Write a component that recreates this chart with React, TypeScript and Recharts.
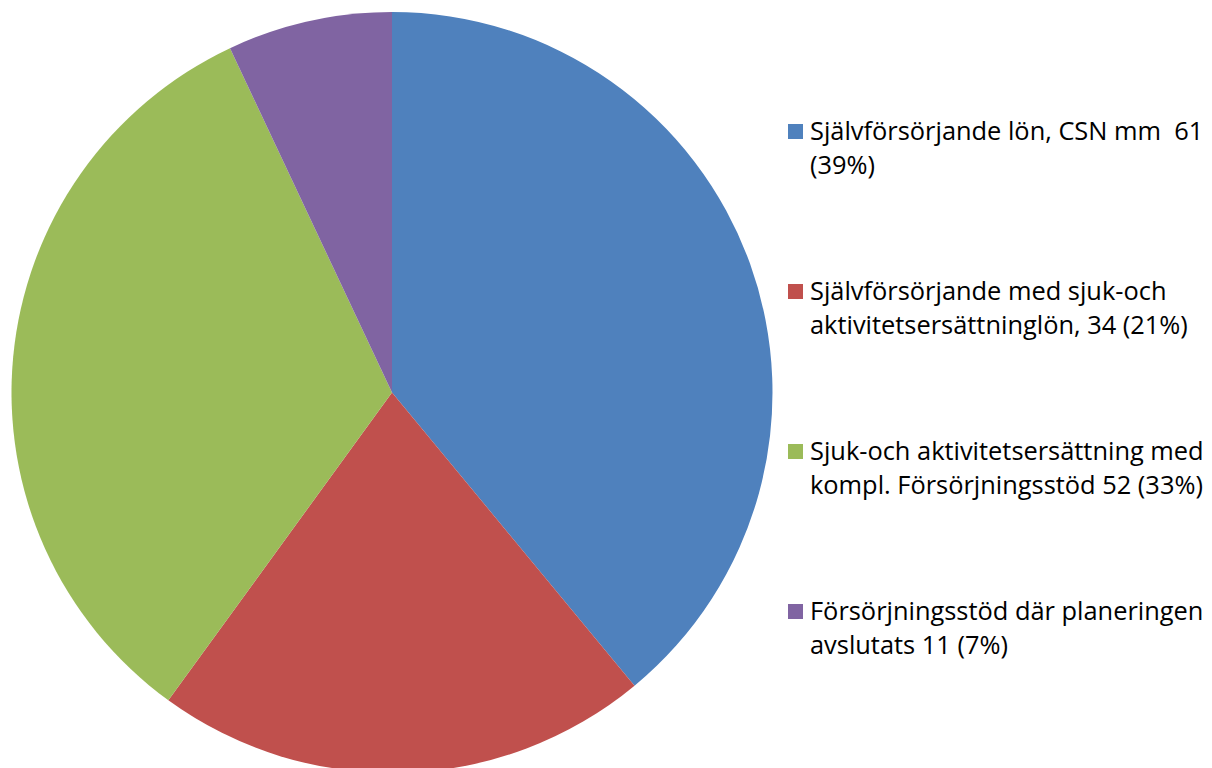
import React from "react";
import { PieChart, Pie, Cell, Legend } from "recharts";

const categories = [
  "Självförsörjande lön, CSN mm  61 (39%)",
  "Självförsörjande med sjuk-och aktivitetsersättninglön, 34 (21%)",
  "Sjuk-och aktivitetsersättning med kompl. Försörjningsstöd 52 (33%)",
  "Försörjningsstöd där planeringen avslutats 11 (7%)",
];
const legendLines = [
  ["Självförsörjande lön, CSN mm\u00a0\u00a061", "(39%)"],
  ["Självförsörjande med sjuk-och", "aktivitetsersättninglön, 34 (21%)"],
  ["Sjuk-och aktivitetsersättning med", "kompl. Försörjningsstöd 52 (33%)"],
  ["Försörjningsstöd där planeringen", "avslutats 11 (7%)"],
];
// slice sizes as drawn (percent shares)
const percents = [39, 21, 33, 7];
const colors = ["#4F81BD", "#C0504D", "#9BBB59", "#8064A2"];

const data = categories.map((name, i) => ({ name, value: percents[i] }));

const FONT = "'Open Sans', sans-serif";

const renderLegend = () => (
  <div style={{ fontFamily: FONT, fontSize: 25.4, color: "#000" }}>
    {legendLines.map((lines, i) => (
      <div key={i} style={{ position: "relative", height: 160 }}>
        <div
          style={{
            position: "absolute",
            left: 0,
            top: 11,
            width: 15,
            height: 15,
            background: colors[i],
          }}
        />
        <div style={{ position: "absolute", left: 22, top: 0, lineHeight: "34px", whiteSpace: "nowrap" }}>
          {lines.map((l, j) => (
            <div key={j}>{l}</div>
          ))}
        </div>
      </div>
    ))}
  </div>
);

export default function App() {
  return (
    <PieChart width={1212} height={768} margin={{ top: 0, right: 0, bottom: 0, left: 0 }}>
      <Pie
        data={data}
        dataKey="value"
        nameKey="name"
        cx={384}
        cy={384.5}
        outerRadius={380.5}
        startAngle={90}
        endAngle={-270}
        stroke="none"
        isAnimationActive={false}
      >
        {data.map((d, i) => (
          <Cell key={i} fill={colors[i]} />
        ))}
      </Pie>
      <Legend
        content={renderLegend}
        wrapperStyle={{ position: "absolute", left: 780, top: 105, width: 432, height: 660 }}
      />
    </PieChart>
  );
}
